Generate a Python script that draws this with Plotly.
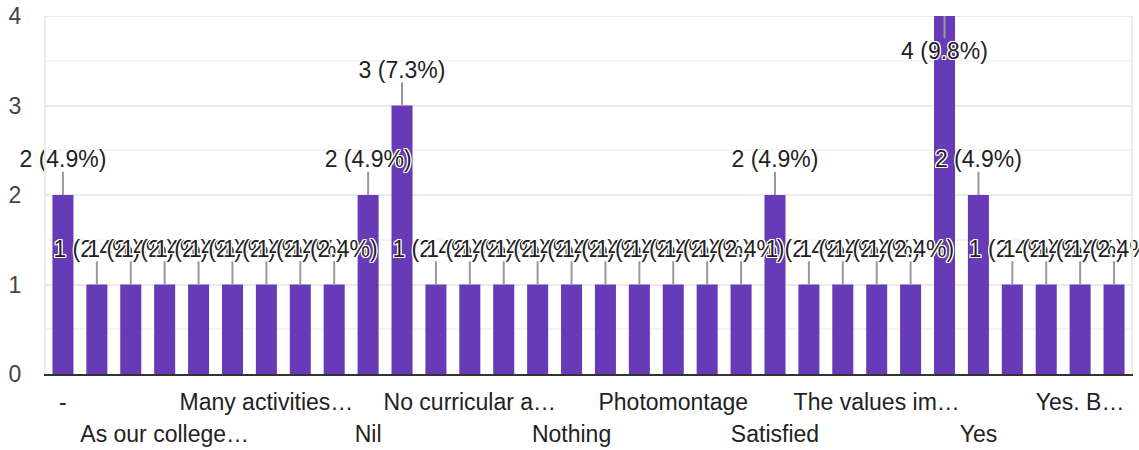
import plotly.graph_objects as go

categories = [
    "-", "All good", "Amazing", "As our college organises many programmes",
    "Good", "It was good", "Many activities were conducted", "NA", "Nice",
    "Nil", "No", "No comments", "No curricular activities were there",
    "None", "Not applicable", "Nothing", "Nothing much", "Ok",
    "Photomontage", "Project work", "Quiz", "Satisfied", "Seminars",
    "Sports", "The values imbibed", "Various events", "Very good",
    "Yes", "Yes it is", "Yes, it was useful", "Yes. Because of the activities",
    "Yes. Good",
]
counts = [2, 1, 1, 1, 1, 1, 1, 1, 1, 2, 3, 1, 1, 1, 1, 1,
          1, 1, 1, 1, 1, 2, 1, 1, 1, 1, 4, 2, 1, 1, 1, 1]

row1_ticks = ["-", "Many activities…", "No curricular a…", "Photomontage",
              "The values im…", "Yes. B…"]
row1_idx = [0, 6, 12, 18, 24, 30]
row2_ticks = ["As our college…", "Nil", "Nothing", "Satisfied", "Yes"]
row2_idx = [3, 9, 15, 21, 27]

y_ticks = [0, 1, 2, 3, 4]
y_max = 4

total = sum(counts)
labels = [f"{v} ({v / total * 100:.1f}%)" for v in counts]

# label placement derived from values (above bar, or inside when clipped)
lab_y, line_x, line_y = [], [], []
for c, v in zip(categories, counts):
    if v + 0.45 <= y_max:
        ly, le = v + 0.375, v + 0.26
    else:
        ly, le = v - 0.42, v - 0.25
    lab_y.append(ly)
    line_x += [c, c, None]
    line_y += [v, le, None]

FONT = "Liberation Sans, Arial, sans-serif"
PURPLE = "#673ab7"
x_range = [-0.5, len(categories) - 0.5]

fig = go.Figure()
fig.add_trace(go.Bar(x=categories, y=counts, marker_color=PURPLE,
                     marker_line_width=0, hoverinfo="skip"))
fig.add_trace(go.Scatter(x=line_x, y=line_y, mode="lines",
                         line=dict(color="#999999", width=2),
                         hoverinfo="skip", cliponaxis=False))
halo = ("white 1px 1px 0px, white -1px -1px 0px, white 1px -1px 0px, "
        "white -1px 1px 0px, white 0px 1px 0px, white 0px -1px 0px, "
        "white 1px 0px 0px, white -1px 0px 0px")
fig.add_trace(go.Scatter(x=categories, y=lab_y, mode="text", text=labels,
                         textposition="middle center",
                         textfont=dict(family=FONT, size=23, color="#222222",
                                       shadow=halo),
                         hoverinfo="skip", cliponaxis=False))
# helper trace for second tick row axis
fig.add_trace(go.Scatter(x=categories, y=counts, xaxis="x2", mode="markers",
                         marker=dict(opacity=0), hoverinfo="skip"))

# top gridline at the axis maximum (plotly drops gridlines on the edge)
fig.add_shape(type="line", xref="paper", x0=0, x1=1, yref="y",
              y0=y_max, y1=y_max, line=dict(color="#ebebeb", width=2),
              layer="below")

fig.update_layout(
    width=1139, height=450,
    margin=dict(l=46, r=8, t=16, b=76),
    paper_bgcolor="white", plot_bgcolor="white",
    showlegend=False, bargap=0.38,
    font=dict(family=FONT, color="#222222"),
    xaxis=dict(type="category", categoryorder="array",
               categoryarray=categories, range=x_range, autorange=False,
               tickmode="array", tickvals=[categories[i] for i in row1_idx],
               ticktext=row1_ticks, ticks="", showgrid=False,
               showline=True, linecolor="#333333", linewidth=2,
               tickfont=dict(size=23, color="#222222"),
               ticklabelstandoff=6, automargin=False),
    xaxis2=dict(type="category", overlaying="x", matches="x", anchor="y",
                side="bottom",
                tickmode="array", tickvals=[categories[i] for i in row2_idx],
                ticktext=row2_ticks, ticks="", showgrid=False,
                showline=False,
                tickfont=dict(size=23, color="#222222"),
                ticklabelstandoff=44, automargin=False),
    yaxis=dict(range=[0, y_max], autorange=False, tickmode="array",
               tickvals=y_ticks,
               showgrid=True, gridcolor="#ebebeb", gridwidth=2,
               zeroline=False, showline=True, linecolor="#ebebeb",
               linewidth=2, mirror=True,
               minor=dict(dtick=0.5, showgrid=True, gridcolor="#f4f4f4",
                          gridwidth=2),
               tickfont=dict(size=23, color="#444444"),
               ticklabelstandoff=18, automargin=False),
)

fig.write_html("out.html", config={"displayModeBar": False},
               post_script="document.body.style.margin='0';")
